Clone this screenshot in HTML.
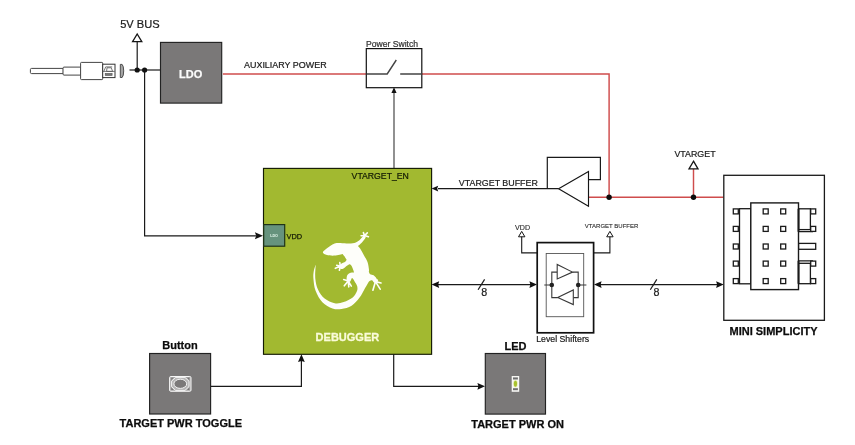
<!DOCTYPE html>
<html>
<head>
<meta charset="utf-8">
<title>Debugger block diagram</title>
<style>
html,body{margin:0;padding:0;background:#fff;}
body{width:855px;height:445px;overflow:hidden;}
svg{display:block;will-change:transform;}
text{font-family:"Liberation Sans",Arial,Helvetica,sans-serif;fill:#1c1c1c;stroke:#1c1c1c;stroke-width:0.22px;stroke-linejoin:round;}
.b{font-weight:bold;fill:#0c0c0c;stroke:#0c0c0c;stroke-width:0.25px;}
.w{fill:none;stroke:#1a1a1a;stroke-width:1.2;}
.r{fill:none;stroke:#cf4c4c;stroke-width:1.45;}
.g{fill:none;stroke:#555;stroke-width:1.1;}
.ah{fill:#111;stroke:none;}
.box{fill:#7a7878;stroke:#222;stroke-width:1.15;}
.tri{fill:#fff;stroke:#151515;stroke-width:1.3;}
.pin{fill:#fff;stroke:#1a1a1a;stroke-width:1.3;}
</style>
</head>
<body>
<svg width="855" height="445" viewBox="0 0 855 445">
<rect x="0" y="0" width="855" height="445" fill="#ffffff"/>

<!-- USB cable -->
<g fill="#fff" stroke="#454545" stroke-width="1">
  <rect x="30.4" y="68.4" width="33" height="5.2" rx="1.2"/>
  <rect x="63" y="67.1" width="18" height="8" rx="1"/>
  <rect x="80.6" y="62.4" width="22.1" height="17.2" rx="0.8"/>
  <rect x="102.7" y="64.2" width="12.3" height="13.4" stroke="#333"/>
  <path d="M103.8 71.4L105.7 66.9H112.2M107 67.8H111.3L112.6 71.4H106.6ZM103 71.4H114.8" fill="none" stroke="#555" stroke-width="0.8"/>
  <rect x="105.2" y="73.4" width="6.9" height="2.1" fill="#777" stroke="#555" stroke-width="0.6"/>
  <path d="M120.3 64.4H122.1Q123.7 66 123.7 70.9Q123.7 75.9 122.1 77.5H120.3Z" fill="#a5a5a5" stroke="#404040" stroke-width="0.9"/>
</g>

<!-- 5V bus -->
<text x="139.9" y="27.8" font-size="11.1" text-anchor="middle">5V BUS</text>
<path class="w" d="M137.2 41.5V70"/>
<path class="tri" d="M137.2 34 L141.8 41.6 H132.6 Z"/>
<path class="w" d="M129.5 70H160.5"/>
<path class="w" d="M144.6 70V235.8H256"/>
<circle cx="137.2" cy="70" r="2.6" fill="#111"/>
<circle cx="144.6" cy="70" r="2.6" fill="#111"/>
<path class="ah" d="M263 235.8L254.9 232.3L256.2 235.8L254.9 239.3Z"/>

<!-- LDO -->
<rect class="box" x="160.5" y="42.4" width="61.2" height="60.7"/>
<text class="b" x="190.7" y="77.6" font-size="11" text-anchor="middle" style="fill:#fcfcfc;stroke:#fcfcfc">LDO</text>

<!-- Aux power -->
<text x="244" y="68" font-size="8.95">AUXILIARY POWER</text>
<path class="r" d="M222.9 74H366"/>
<path class="r" d="M422 74H609.1V197.2"/>
<path class="r" d="M588.8 197.2H723.5"/>
<path class="r" d="M693.5 197.2V169"/>

<!-- Power switch -->
<text x="366" y="47" font-size="8.6" style="fill:#333;stroke:#333">Power Switch</text>
<rect x="366.3" y="48.6" width="55.5" height="39.1" fill="#fff" stroke="#111" stroke-width="1.2"/>
<path d="M366.8 74H387.2L396.3 60M400.2 74H421.4" fill="none" stroke="#444" stroke-width="1.4"/>
<path class="g" d="M394 92V168.3" style="stroke-width:1.3"/>
<path class="ah" d="M394 87.2 L396.6 93 H391.4 Z"/>

<!-- Debugger -->
<rect x="263.5" y="168.4" width="168.1" height="185.9" fill="#a2b930" stroke="#141a04" stroke-width="1.15"/>
<text x="351.6" y="179.2" font-size="8.7" style="fill:#141c04;stroke:#141c04">VTARGET_EN</text>
<rect x="263.7" y="224.6" width="21" height="21.6" fill="#66937d" stroke="#1f3318" stroke-width="1.2"/>
<text class="b" x="274.1" y="236.9" font-size="3.7" text-anchor="middle" style="fill:#e2f6ea;stroke:none">LDO</text>
<text x="286.6" y="239" font-size="7.4" style="fill:#141c04;stroke:#141c04;stroke-width:0.25px">VDD</text>
<text class="b" x="347.4" y="341" font-size="11" text-anchor="middle" style="fill:#fafbd8;stroke:#fafbd8;stroke-width:0.3px">DEBUGGER</text>

<!-- Gecko -->
<g id="gecko" fill="#fefefa" stroke="none">
  <path d="M322.9 252.5C322.7 251.5 324.7 250.1 325.7 249.2C326.8 248.2 327.8 247.5 329.1 246.7C330.4 245.8 332.1 244.7 333.6 244.1C335.1 243.5 335.8 243.2 338.1 243.1C340.3 243.0 344.4 243.6 347.1 243.5C349.8 243.5 352.3 243.5 354.4 243.0C356.4 242.4 358.1 241.2 359.4 240.2C360.8 239.1 361.7 237.6 362.6 236.8C363.4 236.0 364.0 235.0 364.5 235.1C365.0 235.2 366.1 236.3 365.6 237.6C365.1 238.9 363.0 241.3 361.7 242.8C360.4 244.2 357.8 246.1 357.8 246.1C357.8 246.1 359.3 247.3 360.3 248.8C361.4 250.4 362.7 253.1 363.9 255.3C365.1 257.5 366.7 259.6 367.5 262.1C368.4 264.5 368.8 268.3 369.0 269.9C369.2 271.6 368.7 271.0 368.9 271.7C369.1 272.5 369.4 273.6 370.2 274.2C371.0 274.8 372.5 274.6 373.6 275.3C374.6 276.0 375.9 277.4 376.5 278.5C377.2 279.6 377.8 281.1 377.4 281.9C377.0 282.6 375.1 283.0 374.3 282.8C373.4 282.5 373.1 280.8 372.4 280.5C371.6 280.2 370.4 280.4 369.6 281.0C368.7 281.5 368.3 282.7 367.5 283.9C366.8 285.1 366.4 285.7 365.1 288.0C363.7 290.4 361.7 294.9 359.4 297.8C357.2 300.7 354.6 303.8 351.6 305.7C348.6 307.5 344.6 308.6 341.5 309.0C338.3 309.5 335.7 309.6 332.5 308.5C329.3 307.4 325.2 305.2 322.4 302.3C319.6 299.4 317.1 294.8 315.6 290.8C314.1 286.9 313.7 281.9 313.4 278.5C313.1 275.1 313.5 273.0 313.9 270.6C314.3 268.3 315.8 264.4 315.8 264.4C315.8 264.4 314.9 274.3 315.3 278.5C315.7 282.7 316.5 286.4 318.1 289.7C319.6 293.1 321.8 296.2 324.6 298.5C327.4 300.7 331.5 302.6 334.7 303.2C337.9 303.8 340.7 303.0 343.7 302.1C346.7 301.1 350.5 299.4 352.7 297.6C354.9 295.7 356.2 292.9 357.0 291.1C357.7 289.2 357.5 287.9 357.2 286.3C356.9 284.8 355.7 283.1 354.9 281.9C354.2 280.6 353.4 279.3 352.9 278.7C352.4 278.1 352.2 277.8 351.8 278.3C351.3 278.7 351.0 280.8 350.2 281.4C349.4 282.0 347.6 282.7 347.1 281.9C346.5 281.0 346.4 277.7 346.9 276.2C347.3 274.8 348.7 273.7 349.9 273.1C351.1 272.5 354.2 272.6 354.2 272.6C354.2 272.6 353.2 269.6 352.7 268.4C352.2 267.1 351.6 265.9 351.1 265.2C350.6 264.6 349.6 264.3 349.6 264.3C349.6 264.3 348.5 264.7 347.3 265.4C346.1 266.2 343.7 268.7 342.4 269.0C341.0 269.4 339.7 268.3 339.4 267.5C339.1 266.7 339.6 265.3 340.6 264.3C341.6 263.3 344.5 262.3 345.5 261.5C346.5 260.7 346.5 259.6 346.5 259.6C346.5 259.6 344.9 257.1 344.3 256.1C343.6 255.2 342.6 254.0 342.6 254.0C342.6 254.0 337.3 255.4 334.7 255.6C332.1 255.7 328.8 255.6 326.9 255.1C324.9 254.6 323.1 253.5 322.9 252.5Z"/>
  <g stroke="#fefefa" stroke-width="1.6" stroke-linecap="round" fill="none">
    <path d="M364.5 235.6 L361.1 235.7 M364.5 235.6 L363.4 232.6 M364.5 235.6 L367.3 232.9 M364.5 235.6 L368.4 236.8"/>
    <path d="M340.3 266.3 L335.3 268.3 M340.3 266.3 L336.7 265.2 M340.3 266.3 L339.8 262.6 M340.3 266.3 L339.4 270.2"/>
    <path d="M348.2 281.0 L343.7 279.6 M348.2 281.0 L344.3 285.8 M348.2 281.0 L348.8 286.9 M348.2 281.0 L351.3 286.1"/>
    <path d="M375.5 281.6 L372.9 290.3 M375.5 281.6 L380.2 289.2 M375.5 281.6 L381.0 283.0 M375.5 281.6 L377.4 280.2"/>
  </g>
</g>

<!-- VTARGET buffer -->
<text x="458.8" y="186.2" font-size="8.9">VTARGET BUFFER</text>
<path class="w" d="M438 188.7H558.6"/>
<path class="ah" d="M431.6 188.6L438.2 185.7L437.2 188.6L438.2 191.5Z"/>
<path class="w" d="M547.3 188.7V157.3H600.4V179.6H588.5"/>
<path class="tri" d="M558.6 188.7 L588.5 171.4 V206.3 Z" style="stroke-width:1.15"/>
<circle cx="609.1" cy="197.2" r="2.7" fill="#0c0c0c"/>
<circle cx="693.5" cy="197.2" r="2.7" fill="#0c0c0c"/>
<path class="tri" d="M693.5 161.2 L698 168.8 H689 Z"/>
<text x="695" y="157" font-size="8.85" text-anchor="middle">VTARGET</text>

<!-- Bus 1 -->
<path class="w" d="M437 284.6H531"/>
<path class="ah" d="M431.6 284.6L439.2 281.2L438.2 284.6L439.2 288.0Z"/>
<path class="ah" d="M537.0 284.6L529.4 281.2L530.4 284.6L529.4 288.0Z"/>
<path class="w" d="M478.1 289.8L484.6 279.4"/>
<text x="484.2" y="295.8" font-size="10.7" text-anchor="middle">8</text>

<!-- Level shifters -->
<text x="522.6" y="229.6" font-size="7.1" text-anchor="middle" style="stroke-width:0.12px;fill:#2a2a2a;stroke:#2a2a2a">VDD</text>
<path class="tri" d="M521.7 231.4 L524.9 236.8 H518.5 Z" style="stroke-width:1"/>
<path class="w" d="M521.7 236.8V252.9H537" style="stroke-width:1.1"/>
<text x="611.6" y="227.8" font-size="6" text-anchor="middle" style="stroke-width:0.1px;fill:#2a2a2a;stroke:#2a2a2a">VTARGET BUFFER</text>
<path class="tri" d="M609.9 231.4 L613.1 236.8 H606.7 Z" style="stroke-width:1"/>
<path class="w" d="M609.9 236.8V252.9H594" style="stroke-width:1.1"/>
<rect x="537.2" y="242.6" width="56.4" height="90.2" fill="#fff" stroke="#111" stroke-width="1.7"/>
<rect x="546.2" y="253.5" width="37.5" height="63.2" fill="#fff" stroke="#555" stroke-width="0.9"/>
<g fill="none" stroke="#383838" stroke-width="1.1">
  <path d="M544.3 285H551.8M578.2 285H586.4"/>
  <path d="M551.8 285V272.1H557.2M572.5 272.1H578.2V285"/>
  <path d="M578.2 285V297.6H573.3M557.7 297.6H551.8V285"/>
  <path d="M557.2 264.4V279L572.5 272.1Z" fill="#fff"/>
  <path d="M573.3 290V304.6L557.7 297.6Z" fill="#fff"/>
</g>
<circle cx="551.8" cy="285" r="2.3" fill="#222"/>
<circle cx="578.2" cy="285" r="2.3" fill="#222"/>
<text x="562.7" y="342" font-size="8.75" text-anchor="middle">Level Shifters</text>

<!-- Bus 2 -->
<path class="w" d="M600 284.6H718"/>
<path class="ah" d="M594.0 284.6L601.6 281.2L600.6 284.6L601.6 288.0Z"/>
<path class="ah" d="M723.7 284.6L716.1 281.2L717.1 284.6L716.1 288.0Z"/>
<path class="w" d="M650.3 289.8L656.8 279.4"/>
<text x="656.4" y="295.8" font-size="10.7" text-anchor="middle">8</text>

<!-- Mini Simplicity connector -->
<rect x="723.8" y="175.3" width="100.6" height="145" fill="#fff" stroke="#1a1a1a" stroke-width="1.3"/>
<g class="pin">
  <rect x="739.5" y="208.7" width="11.3" height="75.1"/>
  <rect x="798.5" y="208.8" width="11.9" height="20.8"/>
  <rect x="798.5" y="263.3" width="11.9" height="20.4"/>
  <path d="M798.5 231.7H813M798.5 260.8H813" fill="none"/>
  <rect x="798.5" y="243.4" width="17.2" height="5.9"/>
  <rect x="750.8" y="202.9" width="47.7" height="86.7" style="stroke-width:1.4"/>
  <path d="M798.5 208.8V231.7M798.5 260.8V283.7" fill="none" style="stroke-width:1.9"/>
</g>
<g class="pin" id="pins">
  <rect x="733.3" y="208.9" width="5" height="5"/>
  <rect x="733.3" y="226.4" width="5" height="5"/>
  <rect x="733.3" y="244.0" width="5" height="5"/>
  <rect x="733.3" y="261.1" width="5" height="5"/>
  <rect x="733.3" y="278.6" width="5" height="5"/>
  <rect x="763.2" y="208.9" width="5" height="5"/>
  <rect x="763.2" y="226.4" width="5" height="5"/>
  <rect x="763.2" y="244.0" width="5" height="5"/>
  <rect x="763.2" y="261.1" width="5" height="5"/>
  <rect x="763.2" y="278.6" width="5" height="5"/>
  <rect x="780.7" y="208.9" width="5" height="5"/>
  <rect x="780.7" y="226.4" width="5" height="5"/>
  <rect x="780.7" y="244.0" width="5" height="5"/>
  <rect x="780.7" y="261.1" width="5" height="5"/>
  <rect x="780.7" y="278.6" width="5" height="5"/>
  <rect x="810.7" y="208.9" width="5" height="5"/>
  <rect x="810.7" y="226.4" width="5" height="5"/>
  <rect x="810.7" y="261.1" width="5" height="5"/>
  <rect x="810.7" y="278.6" width="5" height="5"/>
</g>
<text class="b" x="773.5" y="334.8" font-size="11" text-anchor="middle">MINI SIMPLICITY</text>

<!-- Button -->
<text class="b" x="180" y="348.6" font-size="11" text-anchor="middle">Button</text>
<rect class="box" x="149.6" y="353.5" width="61" height="60.5"/>
<g id="btnicon">
  <rect x="169.6" y="376.5" width="21.4" height="14.8" rx="1.2" fill="#a9a8a8" stroke="#f8f8f8" stroke-width="1"/>
  <path d="M171.3 377.8h2.2l-2.2 2.4zM189.3 377.8h-2.2l2.2 2.4zM171.3 390h2.2l-2.2 -2.4zM189.3 390h-2.2l2.2 -2.4z" fill="#767474"/>
  <path d="M175.6 377.4H185L189 381.2V386.6L185 390.4H175.6L171.6 386.6V381.2Z" fill="#b6b5b5" stroke="#fbfbfb" stroke-width="0.9"/>
  <ellipse cx="180.3" cy="383.8" rx="6.4" ry="4.6" fill="#7b7979" stroke="#f4f4f4" stroke-width="1"/>
</g>
<text class="b" x="180.8" y="427" font-size="11" text-anchor="middle">TARGET PWR TOGGLE</text>
<path class="w" d="M211 386.3H301.4V360"/>
<path class="ah" d="M301.4 354.3L304.8 361.9L301.4 360.9L298.0 361.9Z"/>

<!-- LED -->
<path class="w" d="M393.7 354V386.3H479"/>
<path class="ah" d="M485.0 386.3L477.4 382.9L478.4 386.3L477.4 389.7Z"/>
<text class="b" x="515.5" y="349.6" font-size="11" text-anchor="middle">LED</text>
<rect class="box" x="485.3" y="353.5" width="60.2" height="60.6"/>
<rect x="511.7" y="376" width="7.5" height="15.8" fill="#f7f7f4"/>
<rect x="513" y="377.4" width="4.9" height="2.1" fill="#6f6f6f"/>
<rect x="513" y="388.2" width="4.9" height="2" fill="#6f6f6f"/>
<ellipse cx="515.45" cy="383.8" rx="2.3" ry="3.7" fill="#e9efb4"/>
<ellipse cx="515.45" cy="383.8" rx="1.6" ry="3" fill="#a8c22e"/>
<text class="b" x="517.6" y="427.8" font-size="11" text-anchor="middle">TARGET PWR ON</text>
</svg>
</body>
</html>
